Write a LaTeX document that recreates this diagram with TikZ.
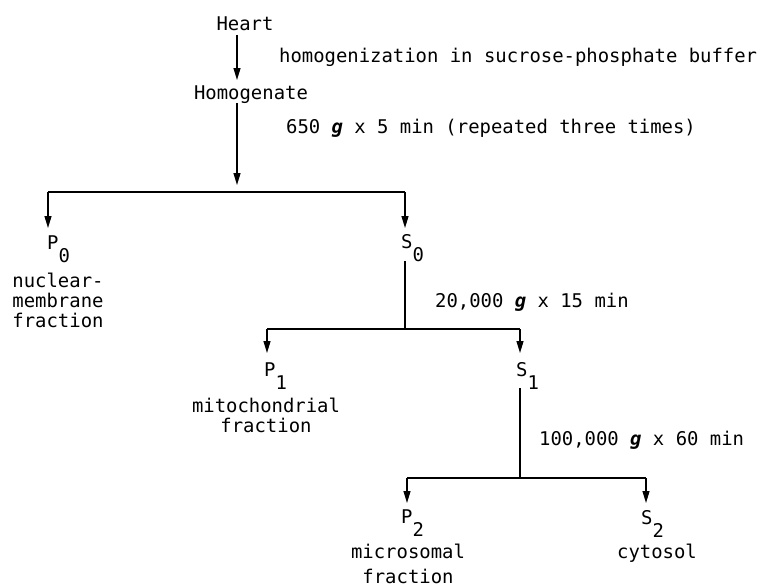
\documentclass[tikz,border=0pt]{standalone}
\usepackage{fontspec}
\setmonofont{DejaVu Sans Mono}
\usetikzlibrary{arrows.meta}
% subscript set at full size, dropped below the letter
\newcommand\subdown[1]{\raisebox{-13pt}{#1}}
\newcommand\gforce{\textbf{\textit{g}}}
\begin{document}
\begin{tikzpicture}[x=1pt,y=-1pt,
  every node/.style={inner sep=0pt, font=\ttfamily\fontsize{18.9}{20}\selectfont},
  lbl/.style={anchor=base west},
  ctr/.style={anchor=base},
  link/.style={line width=1.25pt},
  arr/.style={link,-{Triangle[length=12pt,width=7pt]}}]
\useasboundingbox (0,0) rectangle (765,586);

% starting material and homogenate
\node[ctr] (heart) at (245,31) {Heart};
\node[ctr] (homog) at (251,99) {Homogenate};
\node[lbl] (step1) at (279,63) {homogenization in sucrose-phosphate buffer};
\node[lbl] (spin1) at (286,133) {650 \gforce{} x 5 min (repeated three times)};

\coordinate (h0) at (237,35);
\coordinate (h1) at (237,80);
\draw[arr] (h0) -- (h1);

% first centrifugation
\coordinate (m0) at (237,103);
\coordinate (m1) at (237,185);
\draw[arr] (m0) -- (m1);
\coordinate (j1L) at (48,192);
\coordinate (j1R) at (405,192);
\coordinate (t0L) at (48,228);
\coordinate (t0R) at (405,228);
\draw[link] (j1L) -- (j1R);
\draw[arr] (j1L) -- (t0L);
\draw[arr] (j1R) -- (t0R);

\node[lbl] (p0) at (47,249) {P\subdown{0}};
\node[ctr] (p0a) at (58,287) {nuclear-};
\node[ctr] (p0b) at (58,307) {membrane};
\node[ctr] (p0c) at (58,327) {fraction};
\node[lbl] (s0) at (401,248) {S\subdown{0}};

% second centrifugation
\node[lbl] (spin2) at (435,307) {20,000 \gforce{} x 15 min};
\coordinate (s0b) at (405,261);
\coordinate (j2) at (405,329);
\coordinate (j2L) at (267,329);
\coordinate (j2R) at (520,329);
\coordinate (t1L) at (267,353);
\coordinate (t1R) at (520,353);
\draw[link] (s0b) -- (j2);
\draw[link] (j2L) -- (j2R);
\draw[arr] (j2L) -- (t1L);
\draw[arr] (j2R) -- (t1R);

\node[lbl] (p1) at (264,376) {P\subdown{1}};
\node[ctr] (p1a) at (266,412) {mitochondrial};
\node[ctr] (p1b) at (266,432) {fraction};
\node[lbl] (s1) at (516,376) {S\subdown{1}};

% third centrifugation
\node[lbl] (spin3) at (539,445) {100,000 \gforce{} x 60 min};
\coordinate (s1b) at (520,388);
\coordinate (j3) at (520,478);
\coordinate (j3L) at (407,478);
\coordinate (j3R) at (646,478);
\coordinate (t2L) at (407,503);
\coordinate (t2R) at (646,503);
\draw[link] (s1b) -- (j3);
\draw[link] (j3L) -- (j3R);
\draw[arr] (j3L) -- (t2L);
\draw[arr] (j3R) -- (t2R);

\node[lbl] (p2) at (401,523) {P\subdown{2}};
\node[ctr] (p2a) at (408,558) {microsomal};
\node[ctr] (p2b) at (408,583) {fraction};
\node[lbl] (s2) at (641,524) {S\subdown{2}};
\node[ctr] (s2a) at (657,558) {cytosol};
\end{tikzpicture}
\end{document}
